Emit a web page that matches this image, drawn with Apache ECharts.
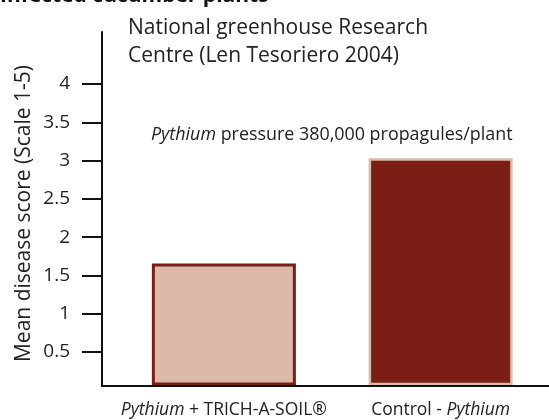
<!DOCTYPE html>
<html>
<head>
<meta charset="utf-8">
<script src="https://cdn.jsdelivr.net/npm/echarts@6/dist/echarts.min.js"></script>
<style>html,body{margin:0;padding:0;background:#fff}#c{width:549px;height:420px}</style>
</head>
<body>
<div id="c"></div>
<script>
const categories = ['Pythium + TRICH-A-SOIL®', 'Control - Pythium'];
const scores = [1.64, 3.02];
const tickValues = [0.5, 1, 1.5, 2, 2.5, 3, 3.5, 4];
const yMin = 0.056, yMax = 4.68;

const dark = '#7b1e15', light = '#dbbba8';
const font = 'Open Sans';

const chart = echarts.init(document.getElementById('c'), null, {renderer: 'canvas'});
chart.setOption({
  animation: false,
  backgroundColor: '#fff',
  grid: [
    {left: 102, right: 0, top: 32, bottom: 34},
    {left: 115.5, right: -0.5, top: 32, bottom: 34}
  ],
  xAxis: [
    {gridIndex: 0, type: 'category', data: [''], z: 10,
     axisLine: {show: true, lineStyle: {color: '#111', width: 2}},
     axisTick: {show: false}, axisLabel: {show: false}, splitLine: {show: false}},
    {gridIndex: 1, type: 'category', data: categories,
     axisLine: {show: false}, axisTick: {show: false},
     axisLabel: {
       interval: 0, hideOverlap: false,
       margin: 16, fontFamily: font, fontSize: 17.5, color: '#222', lineHeight: 20,
       formatter: function (v) {
         if (v.indexOf('Pythium + ') === 0) return '{i|Pythium} + ' + v.slice(10);
         if (v.indexOf(' - Pythium') > 0) return v.slice(0, v.indexOf('Pythium')) + '{i|Pythium}';
         return v;
       },
       rich: {i: {fontStyle: 'italic', fontFamily: font, fontSize: 17.5, color: '#222', lineHeight: 20}}
     }}
  ],
  yAxis: [
    {gridIndex: 0, type: 'value', min: yMin, max: yMax, z: 10,
     name: 'Mean disease score (Scale 1-5)', nameLocation: 'middle', nameGap: 67, nameRotate: 90,
     nameMoveOverlap: false,
     nameTextStyle: {fontFamily: font, fontSize: 21, color: '#222', padding: [0, 9, 0, 0]},
     axisLine: {show: true, lineStyle: {color: '#111', width: 2}},
     axisTick: {show: true, length: 20, lineStyle: {color: '#111', width: 2}, customValues: tickValues},
     axisLabel: {margin: 32, fontFamily: font, fontSize: 19, color: '#222', customValues: tickValues},
     splitLine: {show: false}},
    {gridIndex: 1, type: 'value', min: yMin, max: yMax, show: false, splitLine: {show: false}}
  ],
  series: [{
    type: 'bar', xAxisIndex: 1, yAxisIndex: 1, barWidth: 144, clip: true,
    data: [
      {value: scores[0], itemStyle: {color: light, borderColor: dark, borderWidth: 3}},
      {value: scores[1], itemStyle: {color: dark, borderColor: light, borderWidth: 2.5}}
    ]
  }],
  graphic: [
    {type: 'text', left: 0, top: -14, style: {text: 'Infected cucumber plants', font: 'bold 21px "Open Sans"', fill: '#111'}},
    {type: 'text', left: 128, top: 14, style: {text: 'National greenhouse Research\nCentre (Len Tesoriero 2004)', font: '21px "Open Sans"', fill: '#222', lineHeight: 28}},
    {type: 'text', left: 151, top: 126, style: {
      text: '{i|Pythium} pressure 380,000 propagules/plant',
      font: '17.9px "Open Sans"', fill: '#222',
      rich: {i: {font: 'italic 17.9px "Open Sans"', fill: '#222'}}}}
  ]
});
</script>
</body>
</html>
